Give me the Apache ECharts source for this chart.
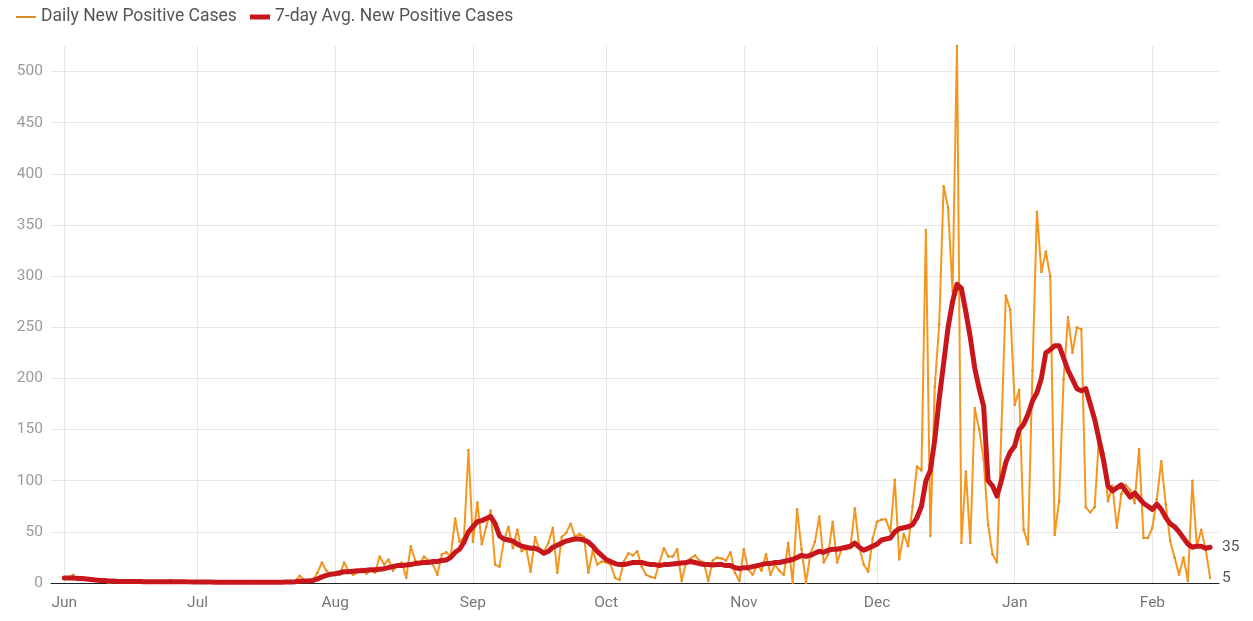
<!DOCTYPE html>
<html>
<head>
<meta charset="utf-8">
<script src="https://cdn.jsdelivr.net/npm/echarts@6/dist/echarts.min.js"></script>
<style>html,body{margin:0;padding:0;background:#fff;}#c{width:1253px;height:621px;}</style>
</head>
<body>
<div id="c"></div>
<script>
// Daily new positive cases, 2020-06-01 .. 2021-02-14 (one value per day)
const dailyJun = [4,5,8,3,5,4,2,3,1,2,0,1,2,1,0,2,1,3,0,1,2,1,0,1,3,0,1,2,0,1];
const dailyJul = [1,0,2,1,0,1,0,2,1,0,1,0,1,2,0,1,0,1,0,1,2,0,2,7,3,1,3,10,20,12,8];
const dailyAug = [10,8,20,12,8,10,14,9,12,10,26,18,23,12,18,20,5,36,22,18,26,22,18,8,28,30,26,63,40,45,130];
const dailySep = [40,79,38,55,71,18,16,42,55,34,52,31,34,11,45,32,31,39,54,10,45,49,58,45,48,45,10,32,18,21];
const dailyOct = [20,18,5,3,21,29,27,31,16,8,6,5,20,34,26,26,33,2,20,24,27,22,20,2,22,25,24,22,30,10,2];
const dailyNov = [33,13,8,18,12,28,8,18,12,8,39,0,72,33,0,29,40,65,20,28,60,20,33,33,34,73,35,18,11,43];
const dailyDec = [60,62,62,50,101,23,48,36,75,114,110,345,46,192,253,388,367,285,525,39,109,39,171,150,121,57,28,20,150,281,267];
const dailyJan = [174,189,52,38,208,363,304,324,300,47,80,199,260,225,250,248,74,69,74,144,127,80,95,54,87,96,91,78,131,44,44];
const dailyFeb = [54,82,119,77,41,25,8,25,2,100,36,52,33,5];

// 7-day average of new positive cases
const avgJun = [5,5,5,4.5,4.5,4,3.5,3,2.5,2.5,2,2,1.5,1.5,1.5,1.5,1.5,1.5,1.2,1.2,1.2,1.2,1.2,1.2,1.3,1.2,1.2,1.2,1.1,1.0];
const avgJul = [1,1,0.9,0.9,0.8,0.8,0.8,0.8,0.8,0.7,0.7,0.7,0.8,0.8,0.8,0.7,0.7,0.7,0.7,0.8,0.9,1,1.2,1.8,2,2.2,2.5,4,6,7.5,8.5];
const avgAug = [9,10,11,11,11.5,12,12,12.5,13,13,13.5,14,15,16,17,17,17.5,18,19,19.5,20,20,21,21,22,22.5,25,30,33,40,50];
const avgSep = [55,60,61,63,65,58,46,43,42,41,38,36,35,34,34,32,29,31,35,37,39,41,42,43,43,42,40,36,31,27];
const avgOct = [23,21,19,18,18,19,20,20,20,19,18,18,17,18,18,18.5,19,19.5,20,21,20,19,18,18,17.5,18,18,17,17,15,14];
const avgNov = [15,15,16,17,18,19,19,20,20,21,22,23,25,27,26,27,29,31,30,32,33,33,34,35,36,39,35,32,34,36];
const avgDec = [38,42,43,44,50,53,54,55,57,64,75,100,110,140,180,215,250,275,292,288,265,240,210,190,173,100,95,85,100,118,128];
const avgJan = [134,150,155,165,178,186,200,225,228,232,232,220,208,199,190,188,190,175,160,140,120,95,90,93,96,90,84,88,83,78,75];
const avgFeb = [72,77,72,64,58,55,50,44,38,35,36,36,34,35];

const monthNames = ['Jan','Feb','Mar','Apr','May','Jun','Jul','Aug','Sep','Oct','Nov','Dec'];
const yTicks = [0,50,100,150,200,250,300,350,400,450,500];
const seriesNames = ['Daily New Positive Cases','7-day Avg. New Positive Cases'];

const daily = [].concat(dailyJun,dailyJul,dailyAug,dailySep,dailyOct,dailyNov,dailyDec,dailyJan,dailyFeb);
const avg = [].concat(avgJun,avgJul,avgAug,avgSep,avgOct,avgNov,avgDec,avgJan,avgFeb);

// axis padding days before the first and after the last data day
const padBefore = 3, padAfter = 2;
const start = Date.UTC(2020,5,1);
const dates = [];
for (let i = -padBefore; i < daily.length + padAfter; i++) {
  const d = new Date(start + i*86400000);
  dates.push(d.toISOString().slice(0,10));
}
const pad = (arr) => Array(padBefore).fill('-').concat(arr, Array(padAfter).fill('-'));
const isMonthStart = (idx, val) => val.slice(8) === '01';

const chart = echarts.init(document.getElementById('c'));
const font = 'Roboto, "Noto Sans", sans-serif';
chart.setOption({
  animation: false,
  textStyle: {fontFamily: font},
  legend: [
    {data: [seriesNames[0]], left: 11, top: 3, itemWidth: 20, itemHeight: 2, itemGap: 10,
     textStyle: {fontSize: 17.5, color: '#555', fontFamily: font}, icon: 'rect'},
    {data: [seriesNames[1]], left: 245, top: 3, itemWidth: 20, itemHeight: 5, itemGap: 10,
     textStyle: {fontSize: 17.5, color: '#555', fontFamily: font}, icon: 'rect'}
  ],
  grid: {left: 51, right: 34, top: 46, bottom: 38},
  xAxis: {
    type: 'category',
    data: dates,
    boundaryGap: false,
    axisLine: {lineStyle: {color: '#222', width: 1}},
    axisTick: {show: false},
    axisLabel: {
      interval: isMonthStart,
      formatter: (v) => monthNames[parseInt(v.slice(5,7),10)-1],
      color: '#777', fontSize: 15.5, margin: 12, fontFamily: font
    },
    splitLine: {show: true, interval: isMonthStart, lineStyle: {color: '#e6e6e6', width: 1}}
  },
  yAxis: {
    type: 'value',
    min: yTicks[0],
    max: 'dataMax',
    interval: yTicks[1]-yTicks[0],
    axisLine: {show: false},
    axisTick: {show: false},
    axisLabel: {color: '#9a9a9a', fontSize: 15.5, margin: 8, showMaxLabel: false, fontFamily: font},
    splitLine: {show: true, showMaxLine: false, lineStyle: {color: '#e6e6e6', width: 1}}
  },
  series: [
    {
      name: seriesNames[0],
      type: 'line',
      data: pad(daily),
      color: '#f7961e',
      lineStyle: {width: 2, color: '#f7961e'},
      symbol: 'circle',
      symbolSize: 2.5,
      showSymbol: true,
      itemStyle: {color: '#d9902a'},
      endLabel: {show: true, formatter: (p) => String(p.value), color: '#555', fontSize: 15.5, distance: 12, fontFamily: font},
      z: 2
    },
    {
      name: seriesNames[1],
      type: 'line',
      data: pad(avg),
      color: '#c8161d',
      lineStyle: {width: 5, color: '#c8161d', join: 'round', cap: 'round'},
      showSymbol: false,
      symbol: 'none',
      endLabel: {show: true, formatter: (p) => String(Math.round(p.value)), color: '#555', fontSize: 15.5, distance: 12, fontFamily: font},
      z: 3
    }
  ]
});
</script>
</body>
</html>
